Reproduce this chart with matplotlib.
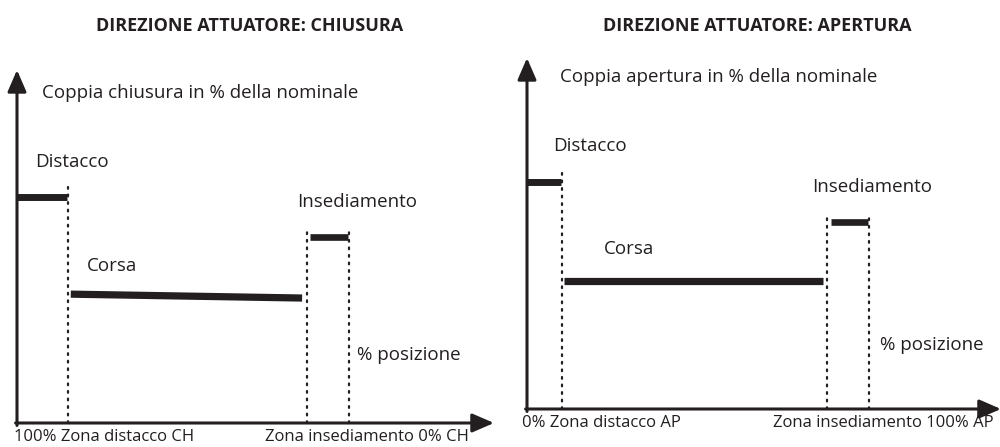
import matplotlib
matplotlib.use("Agg")
import matplotlib.pyplot as plt

plt.rcParams['font.family'] = ['Open Sans', 'DejaVu Sans']

# data in schematic units: x = % corsa (0..100), y = % coppia nominale (0..100)
titles = ["DIREZIONE ATTUATORE: CHIUSURA", "DIREZIONE ATTUATORE: APERTURA"]
y_labels = ["Coppia chiusura in % della nominale", "Coppia apertura in % della nominale"]
x_left_labels = ["100% Zona distacco CH", "0% Zona distacco AP"]
x_right_labels = ["Zona insediamento 0% CH", "Zona insediamento 100% AP"]

# distacco segment (x0, x1, y)
distacco_x = [(0, 10.5), (0, 7.2)]
distacco_y = [64.0, 64.7]
# corsa segment (x0, x1), (y0, y1)
corsa_x = [(11.3, 59.9), (7.8, 62.6)]
corsa_y = [(36.5, 35.4), (36.5, 36.5)]
# insediamento segment
insed_x = [(61.6, 69.5), (64.3, 72.1)]
insed_y = [52.7, 53.3]
# dotted guides: x position, top
guide_x = [[10.7, 60.9, 69.7], [7.4, 63.4, 72.3]]
guide_top = [[66.9, 54.1, 54.1], [67.2, 54.7, 54.7]]

# label positions (x, y)
lbl_coppia = [(5.3, 93.5), (7.0, 94.6)]
lbl_distacco = [(3.8, 73.9), (5.5, 74.9)]
lbl_corsa = [(14.7, 44.5), (16.3, 45.6)]
lbl_insed = [(58.8, 62.6), (60.3, 63.2)]
lbl_pos = [(71.4, 19.3), (74.6, 18.2)]
lbl_bottom_left = [-0.6, -1.1]
lbl_bottom_right = [52.1, 52.0]

W, H = 1000, 447
fig = plt.figure(figsize=(W / 100, H / 100), dpi=100)
boxes = [(17, 423, 476, 353), (527, 409, 473, 351)]   # px: left, bottom(y from top), width, height
title_x = [250, 757]
ink = '#231f20'
fs = 13.5
arrow = dict(arrowstyle='-|>,head_length=0.6,head_width=0.26', lw=2.2,
             color=ink, mutation_scale=22, shrinkA=0, shrinkB=0)

for i in range(2):
    l, b, w, h = boxes[i]
    ax = fig.add_axes([l / W, (H - b) / H, w / W, h / H])
    ax.set_xlim(0, 100)
    ax.set_ylim(0, 100)
    ax.axis('off')

    # axes with arrows
    ax.annotate('', xy=(0, 100), xytext=(0, -0.7), xycoords='data',
                arrowprops=arrow, annotation_clip=False)
    ax.annotate('', xy=(100.2, 0), xytext=(-0.3, 0), xycoords='data',
                arrowprops=arrow, annotation_clip=False)

    # dotted guides
    for gx, gt in zip(guide_x[i], guide_top[i]):
        ax.plot([gx, gx], [0, gt], color=ink, lw=1.6, linestyle=(0, (0.8, 2.6)),
                dash_capstyle='round', clip_on=False)

    # segments
    ax.plot(distacco_x[i], [distacco_y[i]] * 2, color=ink, lw=5.0,
            solid_capstyle='butt', clip_on=False)
    ax.plot(corsa_x[i], corsa_y[i], color=ink, lw=5.2, solid_capstyle='butt', clip_on=False)
    ax.plot(insed_x[i], [insed_y[i]] * 2, color=ink, lw=4.8, solid_capstyle='butt', clip_on=False)

    # labels
    ax.text(*lbl_coppia[i], y_labels[i], fontsize=fs, va='center', ha='left', color=ink)
    ax.text(*lbl_distacco[i], "Distacco", fontsize=fs, va='center', ha='left', color=ink)
    ax.text(*lbl_corsa[i], "Corsa", fontsize=fs, va='center', ha='left', color=ink)
    ax.text(*lbl_insed[i], "Insediamento", fontsize=fs, va='center', ha='left', color=ink)
    ax.text(*lbl_pos[i], "% posizione", fontsize=fs, va='center', ha='left', color=ink)
    ax.text(lbl_bottom_left[i], -4.0, x_left_labels[i], fontsize=12, va='center', ha='left',
            color=ink, clip_on=False)
    ax.text(lbl_bottom_right[i], -4.0, x_right_labels[i], fontsize=12, va='center', ha='left',
            color=ink, clip_on=False)

    fig.text(title_x[i] / W, 1 - 26 / H, titles[i], fontsize=13, fontweight='bold',
             ha='center', va='center', color=ink)

fig.savefig("out.png", dpi=100, facecolor='white')
